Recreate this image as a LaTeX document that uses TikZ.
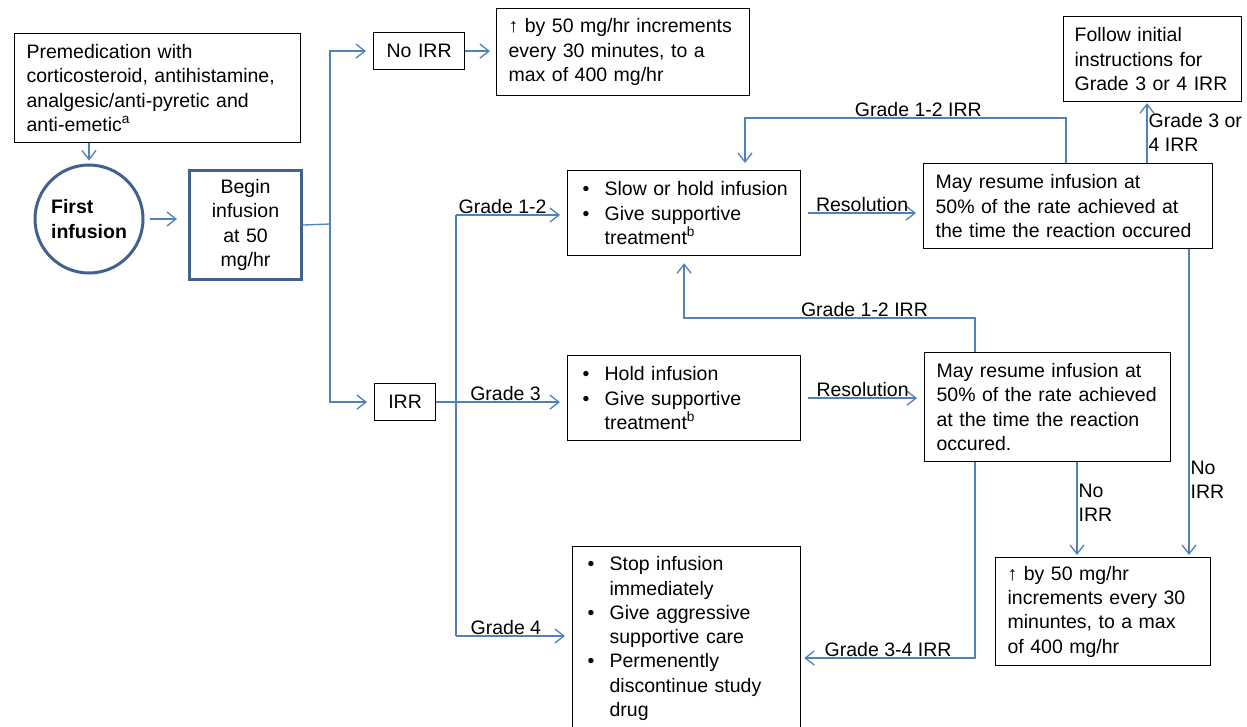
\documentclass[tikz,border=0pt]{standalone}
\usepackage{fontspec}
\setmainfont{Liberation Sans}
\usetikzlibrary{arrows.meta}
\definecolor{linkblue}{HTML}{4F81BD}
\definecolor{ringblue}{HTML}{41618F}
\newcommand{\bul}{\makebox[25pt][l]{\hspace{3pt}\textbullet}}
\newcommand{\ind}{\hspace*{25pt}}

\begin{document}
\begin{tikzpicture}[x=1pt, y=-1pt, font=\fontsize{19.5}{24.3}\selectfont,
	box/.style={draw, line width=1.2pt, anchor=north west, align=left, inner xsep=12pt, inner ysep=0pt},
	keybox/.style={box, draw=ringblue, line width=3pt, align=center},
	flow/.style={draw=linkblue, line width=1.3pt, -{Straight Barb[length=9pt,width=14pt]}, shorten >=7pt},
	link/.style={draw=linkblue, line width=1.3pt},
	lbl/.style={inner sep=1pt}]
	\path[fill=white, use as bounding box] (0,0) rectangle (1247,726);
	% start
	\node[box, text width=262pt, minimum height=109pt] (premed) at (14,33) {Premedication with\\corticosteroid, antihistamine,\\analgesic/anti-pyretic and\\anti-emetic\textsuperscript{a}};
	\node[circle, draw=ringblue, line width=3pt, minimum size=108pt, inner sep=0pt, align=left, font=\fontsize{19.5}{24.3}\selectfont\bfseries] (first) at (89,219) {First\\infusion};
	\node[keybox, text width=88pt, minimum height=109pt] (begin) at (188,169) {Begin\\infusion\\at 50\\mg/hr};
	\node[box, align=center, text width=67pt, minimum height=37pt] (noirr) at (373,32) {No IRR};
	\node[box, text width=229pt, minimum height=87pt] (inc1) at (496,8) {↑ by 50 mg/hr increments\\every 30 minutes, to a\\max of 400 mg/hr};
	\node[box, align=center, text width=37pt, minimum height=37pt] (irr) at (374,383) {IRR};
	% grades
	\node[box, text width=209pt, minimum height=85pt] (slow) at (567,170) {\bul Slow or hold infusion\\\bul Give supportive\\\ind treatment\textsuperscript{b}};
	\node[box, text width=209pt, minimum height=85pt] (hold) at (567,355) {\bul Hold infusion\\\bul Give supportive\\\ind treatment\textsuperscript{b}};
	\node[box, text width=204pt, minimum height=184pt] (stop) at (572,546) {\bul Stop infusion\\\ind immediately\\\bul Give aggressive\\\ind supportive care\\\bul Permenently\\\ind discontinue study\\\ind drug};
	% resume
	\node[box, text width=265pt, minimum height=85pt] (may1) at (923,163) {May resume infusion at\\50\% of the rate achieved at\\the time the reaction occured};
	\node[box, text width=222pt, minimum height=109pt] (may2) at (924,352) {May resume infusion at\\50\% of the rate achieved\\at the time the reaction\\occured.};
	\node[box, inner xsep=11pt, text width=156pt, minimum height=85pt] (follow) at (1063,16) {Follow initial\\instructions for\\Grade 3 or 4 IRR};
	\node[box, text width=191pt, minimum height=108pt] (final) at (995,557) {↑ by 50 mg/hr\\increments every 30\\minuntes, to a max\\of 400 mg/hr};
	% connectors
	\coordinate (tr) at (330,224);
	\coordinate (g12) at (456,215);
	\coordinate (g4) at (456,636);
	\coordinate (up1) at (1066,118);
	\coordinate (dn1) at (745,118);
	\coordinate (g34) at (1147,0);
	\coordinate (ni1) at (1189,0);
	\coordinate (lp2) at (975,318);
	\coordinate (dn2) at (975,658);
	\coordinate (ni2) at (1077,0);
	\draw[flow, shorten >=3pt] (first.north |- premed.south) -- (first.north);
	\draw[flow, shorten <=5pt, shorten >=11pt] (first.east) -- (first.east -| begin.west);
	\draw[link] (begin.east) -- (tr);
	\draw[flow] (tr) |- (noirr.west);
	\draw[flow] (tr) |- (irr.west);
	\draw[flow, shorten >=6pt] (noirr.east) -- (inc1.west |- noirr.east);
	\draw[link] (g12) -- (g4);
	\draw[flow] (g12) -- node[above, lbl, pos=0.42] {Grade 1-2} (slow.west |- g12);
	\draw[flow] (irr.east) -- node[above, lbl, pos=0.53] {Grade 3} (irr.east -| hold.west);
	\draw[flow] (g4) -- node[above, lbl, pos=0.43] {Grade 4} (stop.west |- g4);
	\draw[flow, shorten <=7pt] (slow.east) -- node[above, lbl] {Resolution} (slow.east -| may1.west);
	\draw[flow, shorten <=7pt] (hold.east) -- node[above, lbl] {Resolution} (hold.east -| may2.west);
	\draw[flow] (up1 |- may1.north) -- (up1) -- node[above, lbl, pos=0.46] {Grade 1-2 IRR} (dn1) -- (dn1 |- slow.north);
	\draw[flow, shorten >=1pt] (g34 |- may1.north) -- node[right, lbl, align=left] {Grade 3 or\\4 IRR} (g34 |- follow.south);
	\draw[flow, shorten >=2pt] (ni1 |- may1.south) -- node[right, lbl, align=left, pos=0.75] {No\\IRR} (ni1 |- final.north);
	\draw[flow] (lp2 |- may2.north) -- (lp2) -| node[above, lbl, pos=0.19] {Grade 1-2 IRR} (slow.south);
	\draw[flow, shorten >=3pt] (dn2 |- may2.south) -- (dn2) -- node[above, lbl] {Grade 3-4 IRR} (dn2 -| stop.east);
	\draw[flow, shorten >=2pt] (ni2 |- may2.south) -- node[right, lbl, align=left, pos=0.43] {No\\IRR} (ni2 |- final.north);
\end{tikzpicture}
\end{document}
